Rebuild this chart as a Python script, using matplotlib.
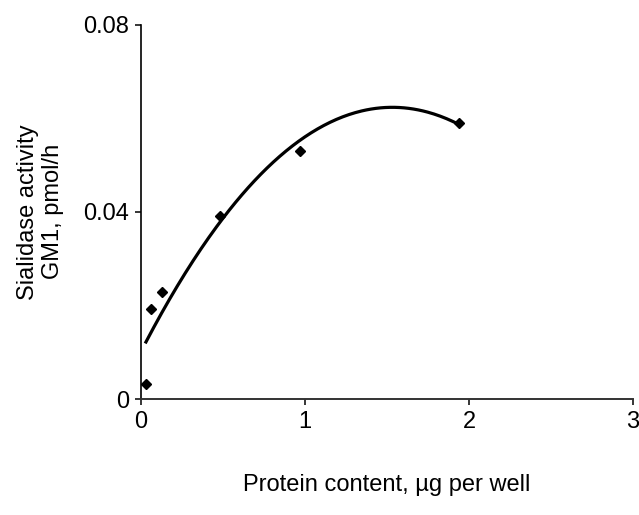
import numpy as np
import matplotlib
matplotlib.use("Agg")
import matplotlib.pyplot as plt

plt.rcParams['font.family'] = ['Liberation Sans', 'DejaVu Sans']

# measured points
protein = [0.03, 0.06, 0.13, 0.48, 0.97, 1.94]
activity = [0.0032, 0.0192, 0.0229, 0.0392, 0.0531, 0.0591]

x_ticks = [0, 1, 2, 3]
y_ticks = [0, 0.04, 0.08]
y_tick_labels = ["0", "0.04", "0.08"]

fig = plt.figure(figsize=(6.39, 5.15), dpi=100)
ax = fig.add_axes([0.2207, 0.2252, 0.7699, 0.7268])

# second order polynomial trendline through the points
coef = np.polyfit(protein, activity, 2)
xs = np.linspace(min(protein), max(protein), 200)
ax.plot(xs, np.polyval(coef, xs), color='black', lw=2.3, zorder=2)

ax.plot(protein, activity, linestyle='none', marker='D', markersize=5.5,
        color='black', zorder=3, clip_on=False)

ax.set_xlim(0, 3)
ax.set_ylim(0, 0.08)
ax.set_xticks(x_ticks)
ax.set_xticklabels([str(t) for t in x_ticks])
ax.set_yticks(y_ticks)
ax.set_yticklabels(y_tick_labels)

for side in ['top', 'right']:
    ax.spines[side].set_visible(False)
ax.spines['left'].set_linewidth(1.2)
ax.spines['bottom'].set_linewidth(1.4)
ax.spines['bottom'].set_color('#333333')
ax.tick_params(direction='out', length=4.5, width=1.1, labelsize=17, pad=4)

ax.set_xlabel("Protein content, µg per well", fontsize=17, labelpad=30)
ax.set_ylabel("Sialidase activity\nGM1, pmol/h", fontsize=17, labelpad=14)

fig.savefig("out.png", dpi=100)
